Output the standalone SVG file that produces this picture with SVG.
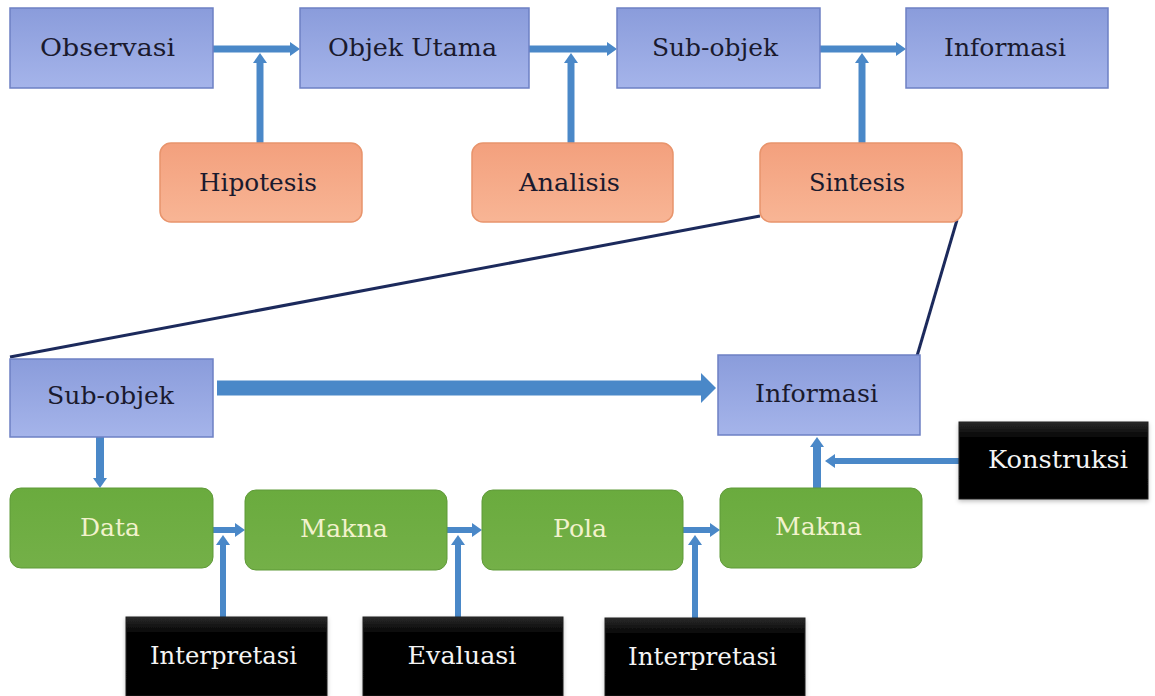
<svg xmlns="http://www.w3.org/2000/svg" width="1155" height="696" viewBox="0 0 1155 696">
  <defs>
    <linearGradient id="gBlue" x1="0" y1="0" x2="0" y2="1">
      <stop offset="0" stop-color="#8a9cdb"/>
      <stop offset="1" stop-color="#a5b4ea"/>
    </linearGradient>
    <linearGradient id="gOrange" x1="0" y1="0" x2="0" y2="1">
      <stop offset="0" stop-color="#f3a07d"/>
      <stop offset="1" stop-color="#f8b595"/>
    </linearGradient>
    <linearGradient id="gGreen" x1="0" y1="0" x2="0" y2="1">
      <stop offset="0" stop-color="#6aab3e"/>
      <stop offset="1" stop-color="#74b048"/>
    </linearGradient>
    <linearGradient id="gBlack" x1="0" y1="0" x2="0" y2="1">
      <stop offset="0" stop-color="#2a2a2a"/>
      <stop offset="0.2" stop-color="#050505"/>
      <stop offset="1" stop-color="#000000"/>
    </linearGradient>
    <filter id="shadow" x="-10%" y="-10%" width="120%" height="130%">
      <feDropShadow dx="0" dy="2" stdDeviation="2" flood-color="#000" flood-opacity="0.25"/>
    </filter>
    <marker id="head" viewBox="0 0 10 14" markerWidth="10" markerHeight="14" refX="0" refY="7" orient="auto" markerUnits="userSpaceOnUse">
      <path d="M0,0 L10,7 L0,14 z" fill="#4a88c8"/>
    </marker>
    <marker id="headBig" viewBox="0 0 15 30" markerWidth="15" markerHeight="30" refX="0" refY="15" orient="auto" markerUnits="userSpaceOnUse">
      <path d="M0,0 L15,15 L0,30 z" fill="#4a88c8"/>
    </marker>
    <style>
      .blue { fill: url(#gBlue); stroke: #6d80c4; stroke-width: 1.5; }
      .orange { fill: url(#gOrange); stroke: #e8946c; stroke-width: 1.5; }
      .green { fill: url(#gGreen); stroke: #5f9a38; stroke-width: 1; }
      .black { fill: url(#gBlack); stroke: #222; stroke-width: 1; }
      .t { font-family: "DejaVu Serif", "Liberation Serif", serif; font-size: 24px; text-anchor: middle; }
      .dark { fill: #1a1a2e; }
      .light { fill: #f2f2cc; }
      .white { fill: #f4f4f4; }
      .arr { fill: none; stroke: #4a88c8; stroke-width: 7; }
      .arrS { fill: none; stroke: #4a88c8; stroke-width: 6; }
      .line { fill: none; stroke: #1c2a5c; stroke-width: 3; }
    </style>
  </defs>
  <rect width="1155" height="696" fill="#ffffff"/>

  <g id="connectors">
    <path class="line" d="M760,216 L10,357"/>
    <path class="line" d="M957,220 L917,356"/>
    <path class="arr" d="M213,49 H290" marker-end="url(#head)"/>
    <path class="arr" d="M260,143 V63" marker-end="url(#head)"/>
    <path class="arr" d="M529,49 H607" marker-end="url(#head)"/>
    <path class="arr" d="M571,143 V63" marker-end="url(#head)"/>
    <path class="arr" d="M820,49 H896" marker-end="url(#head)"/>
    <path class="arr" d="M862,143 V63" marker-end="url(#head)"/>
    <path class="arr" d="M217,388 H701" style="stroke-width:15" marker-end="url(#headBig)"/>
    <path class="arr" d="M100,437 V478" style="stroke-width:8" marker-end="url(#head)"/>
    <path class="arrS" d="M213,530 H235" marker-end="url(#head)"/>
    <path class="arrS" d="M223,617 V545" marker-end="url(#head)"/>
    <path class="arrS" d="M447,530 H472" marker-end="url(#head)"/>
    <path class="arrS" d="M458,617 V545" marker-end="url(#head)"/>
    <path class="arrS" d="M683,530 H710" marker-end="url(#head)"/>
    <path class="arrS" d="M695,618 V545" marker-end="url(#head)"/>
    <path class="arrS" d="M959,461 H835" marker-end="url(#head)"/>
    <path class="arr" d="M817,488 V447" style="stroke-width:8" marker-end="url(#head)"/>
  </g>

  <g id="observasi">
    <rect class="blue" x="10" y="8" width="203" height="80"/>
    <text class="t dark" x="107.5" y="56" textLength="135" lengthAdjust="spacingAndGlyphs">Observasi</text>
  </g>
  <g id="objek-utama">
    <rect class="blue" x="300" y="8" width="229" height="80"/>
    <text class="t dark" x="412.5" y="56" textLength="169" lengthAdjust="spacingAndGlyphs">Objek Utama</text>
  </g>
  <g id="sub-objek-top">
    <rect class="blue" x="617" y="8" width="203" height="80"/>
    <text class="t dark" x="715" y="56" textLength="126" lengthAdjust="spacingAndGlyphs">Sub-objek</text>
  </g>
  <g id="informasi-top">
    <rect class="blue" x="906" y="8" width="202" height="80"/>
    <text class="t dark" x="1005" y="56" textLength="122" lengthAdjust="spacingAndGlyphs">Informasi</text>
  </g>

  <g id="hipotesis">
    <rect class="orange" x="160" y="143" width="202" height="79" rx="11"/>
    <text class="t dark" x="258" y="191" textLength="118" lengthAdjust="spacingAndGlyphs">Hipotesis</text>
  </g>
  <g id="analisis">
    <rect class="orange" x="472" y="143" width="201" height="79" rx="11"/>
    <text class="t dark" x="569.5" y="191" textLength="101" lengthAdjust="spacingAndGlyphs">Analisis</text>
  </g>
  <g id="sintesis">
    <rect class="orange" x="760" y="143" width="202" height="79" rx="11"/>
    <text class="t dark" x="857" y="191" textLength="96" lengthAdjust="spacingAndGlyphs">Sintesis</text>
  </g>

  <g id="sub-objek-bottom">
    <rect class="blue" x="10" y="359" width="203" height="78"/>
    <text class="t dark" x="110.5" y="404" textLength="127" lengthAdjust="spacingAndGlyphs">Sub-objek</text>
  </g>
  <g id="informasi-bottom">
    <rect class="blue" x="718" y="355" width="202" height="80"/>
    <text class="t dark" x="816.5" y="402" textLength="123" lengthAdjust="spacingAndGlyphs">Informasi</text>
  </g>

  <g id="konstruksi">
    <rect class="black" x="959" y="422" width="189" height="77" filter="url(#shadow)"/>
    <text class="t white" x="1058" y="468" textLength="140" lengthAdjust="spacingAndGlyphs">Konstruksi</text>
  </g>

  <g id="data">
    <rect class="green" x="10" y="488" width="203" height="80" rx="11"/>
    <text class="t light" x="110" y="536" textLength="60" lengthAdjust="spacingAndGlyphs">Data</text>
  </g>
  <g id="makna-1">
    <rect class="green" x="245" y="490" width="202" height="80" rx="11"/>
    <text class="t light" x="344" y="537" textLength="88" lengthAdjust="spacingAndGlyphs">Makna</text>
  </g>
  <g id="pola">
    <rect class="green" x="482" y="490" width="201" height="80" rx="11"/>
    <text class="t light" x="580" y="537" textLength="54" lengthAdjust="spacingAndGlyphs">Pola</text>
  </g>
  <g id="makna-2">
    <rect class="green" x="720" y="488" width="202" height="80" rx="11"/>
    <text class="t light" x="818.5" y="535" textLength="87" lengthAdjust="spacingAndGlyphs">Makna</text>
  </g>

  <g id="interpretasi-1">
    <rect class="black" x="126" y="617" width="201" height="79" filter="url(#shadow)"/>
    <text class="t white" x="223.5" y="664" textLength="147" lengthAdjust="spacingAndGlyphs">Interpretasi</text>
  </g>
  <g id="evaluasi">
    <rect class="black" x="363" y="617" width="200" height="79" filter="url(#shadow)"/>
    <text class="t white" x="462" y="664" textLength="109" lengthAdjust="spacingAndGlyphs">Evaluasi</text>
  </g>
  <g id="interpretasi-2">
    <rect class="black" x="605" y="618" width="200" height="78" filter="url(#shadow)"/>
    <text class="t white" x="702.5" y="665" textLength="149" lengthAdjust="spacingAndGlyphs">Interpretasi</text>
  </g>
</svg>
